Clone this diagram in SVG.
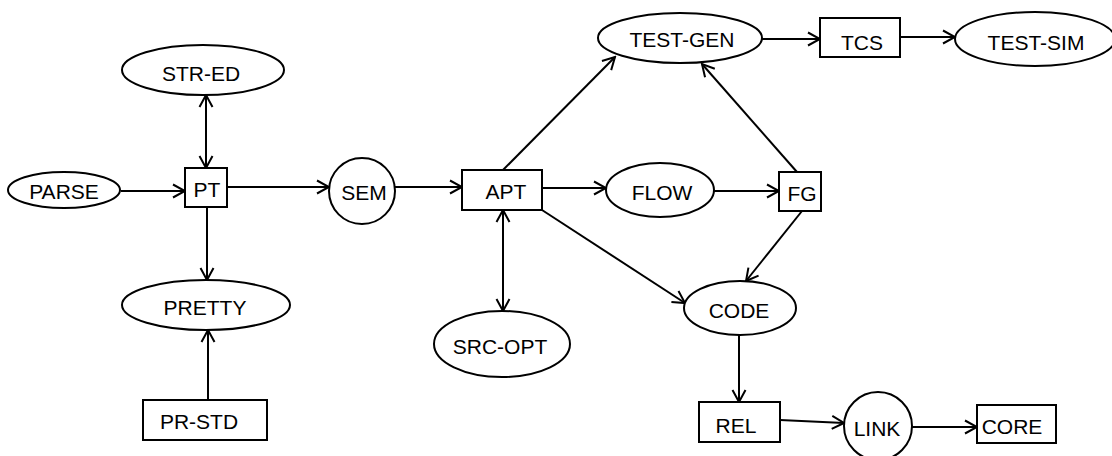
<svg xmlns="http://www.w3.org/2000/svg" width="1112" height="456" viewBox="0 0 1112 456">
<style>
.n{fill:#fff;stroke:#000;stroke-width:2}
.t{font-family:"Liberation Sans",Arial,sans-serif;font-size:21px;fill:#000;text-anchor:middle;dominant-baseline:central}
.e{fill:none;stroke:#000;stroke-width:2}
</style>
<defs>
<marker id="a" markerUnits="userSpaceOnUse" markerWidth="16" markerHeight="16" refX="14" refY="8" orient="auto-start-reverse" viewBox="0 0 16 16">
<path d="M2,1.5 L14,8 L2,14.5" fill="none" stroke="#000" stroke-width="2"/>
</marker>
</defs>
<rect width="1112" height="456" fill="#fff"/>
<g id="connectors">
<line class="e" x1="121" y1="191" x2="185" y2="191" marker-end="url(#a)"/>
<line class="e" x1="206" y1="95" x2="206" y2="168" marker-start="url(#a)" marker-end="url(#a)"/>
<line class="e" x1="227" y1="187" x2="329" y2="187" marker-end="url(#a)"/>
<line class="e" x1="207" y1="207" x2="207" y2="280" marker-end="url(#a)"/>
<line class="e" x1="208" y1="400" x2="208" y2="330" marker-end="url(#a)"/>
<line class="e" x1="395" y1="187" x2="462" y2="187" marker-end="url(#a)"/>
<line class="e" x1="503" y1="210" x2="503" y2="311" marker-start="url(#a)" marker-end="url(#a)"/>
<line class="e" x1="542" y1="188" x2="606" y2="188" marker-end="url(#a)"/>
<line class="e" x1="714" y1="191" x2="779" y2="191" marker-end="url(#a)"/>
<line class="e" x1="503" y1="170" x2="615" y2="57" marker-end="url(#a)"/>
<line class="e" x1="797" y1="172" x2="702" y2="64" marker-end="url(#a)"/>
<line class="e" x1="542" y1="210" x2="685" y2="303" marker-end="url(#a)"/>
<line class="e" x1="802" y1="211" x2="746" y2="281" marker-end="url(#a)"/>
<line class="e" x1="762" y1="39" x2="820" y2="39" marker-end="url(#a)"/>
<line class="e" x1="900" y1="37" x2="955" y2="37" marker-end="url(#a)"/>
<line class="e" x1="739" y1="335" x2="739" y2="402" marker-end="url(#a)"/>
<line class="e" x1="780" y1="420" x2="844" y2="423" marker-end="url(#a)"/>
<line class="e" x1="912" y1="427" x2="977" y2="427" marker-end="url(#a)"/>
</g>
<g id="PARSE"><ellipse class="n" cx="64" cy="190" rx="56" ry="18"/><text class="t" x="64" y="191">PARSE</text></g>
<g id="STR-ED"><ellipse class="n" cx="203" cy="70" rx="81" ry="25"/><text class="t" x="201" y="73">STR-ED</text></g>
<g id="PT"><rect class="n" x="185" y="168" width="42" height="39"/><text class="t" x="207" y="189">PT</text></g>
<g id="SEM"><circle class="n" cx="362" cy="191" r="33"/><text class="t" x="364" y="192">SEM</text></g>
<g id="APT"><rect class="n" x="462" y="170" width="80" height="40"/><text class="t" x="506" y="191">APT</text></g>
<g id="FLOW"><ellipse class="n" cx="660" cy="190" rx="54" ry="27"/><text class="t" x="662" y="192">FLOW</text></g>
<g id="FG"><rect class="n" x="779" y="172" width="42" height="39"/><text class="t" x="802" y="193">FG</text></g>
<g id="TEST-GEN"><ellipse class="n" cx="680" cy="38" rx="82" ry="25"/><text class="t" x="682" y="39">TEST-GEN</text></g>
<g id="TCS"><rect class="n" x="820" y="18" width="80" height="39"/><text class="t" x="862" y="42">TCS</text></g>
<g id="TEST-SIM"><ellipse class="n" cx="1035" cy="39" rx="80" ry="27"/><text class="t" x="1036" y="42">TEST-SIM</text></g>
<g id="PRETTY"><ellipse class="n" cx="206" cy="305" rx="84" ry="25"/><text class="t" x="205" y="307">PRETTY</text></g>
<g id="PR-STD"><rect class="n" x="143" y="400" width="124" height="40"/><text class="t" x="199" y="421">PR-STD</text></g>
<g id="SRC-OPT"><ellipse class="n" cx="502" cy="344" rx="68" ry="33"/><text class="t" x="500" y="346">SRC-OPT</text></g>
<g id="CODE"><ellipse class="n" cx="740" cy="308" rx="56" ry="27"/><text class="t" x="739" y="310">CODE</text></g>
<g id="REL"><rect class="n" x="699" y="402" width="81" height="40"/><text class="t" x="736" y="425">REL</text></g>
<g id="LINK"><circle class="n" cx="878" cy="426" r="34"/><text class="t" x="877" y="428">LINK</text></g>
<g id="CORE"><rect class="n" x="977" y="405" width="79" height="38"/><text class="t" x="1012" y="426">CORE</text></g>
</svg>
